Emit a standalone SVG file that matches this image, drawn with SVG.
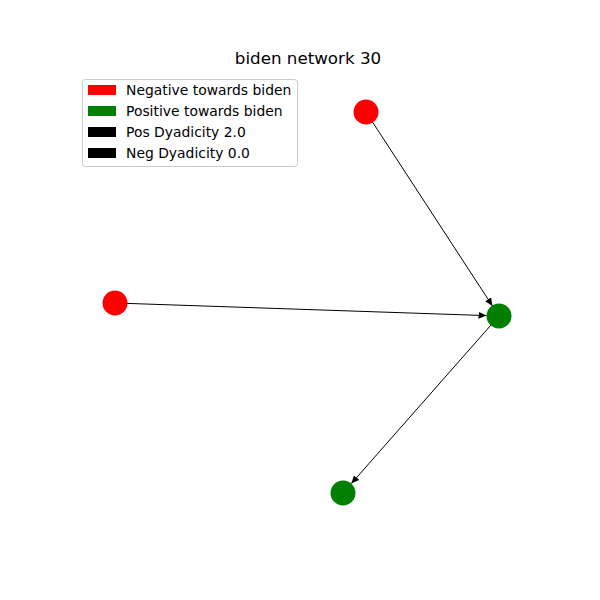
<svg xmlns="http://www.w3.org/2000/svg" width="600" height="600" viewBox="0 0 600 600">
<style>
text{font-family:"DejaVu Sans",sans-serif;fill:#000}
.lg{font-size:13.9px}
.e{stroke:#000;stroke-width:1;fill:none;marker-end:url(#ah)}
</style>
<defs>
<marker id="ah" markerUnits="userSpaceOnUse" markerWidth="8" markerHeight="7" refX="8" refY="3.5" orient="auto">
<path d="M0,0 L8,3.5 L0,7 Z" fill="#000"/>
</marker>
</defs>
<rect width="600" height="600" fill="#fff"/>
<text x="308" y="64" font-size="16.7" text-anchor="middle">biden network 30</text>
<g id="connectors">
<line class="e" x1="372.5" y1="122" x2="492.5" y2="306"/>
<line class="e" x1="127" y1="303.4" x2="486.5" y2="315.6"/>
<line class="e" x1="491" y1="325" x2="351.3" y2="483.6"/>
</g>
<g id="n1"><circle cx="366" cy="112" r="12.5" fill="#ff0000"/></g>
<g id="n2"><circle cx="115" cy="303" r="12.5" fill="#ff0000"/></g>
<g id="n3"><circle cx="499" cy="316" r="12.5" fill="#008000"/></g>
<g id="n4"><circle cx="343" cy="493" r="12.5" fill="#008000"/></g>
<g id="legend">
<rect x="82.5" y="79.5" width="215" height="87" rx="3" fill="#fff" fill-opacity="0.8" stroke="#ccc"/>
<rect x="88" y="85" width="28" height="10" fill="#ff0000"/>
<text class="lg" x="126" y="95">Negative towards biden</text>
<rect x="88" y="106" width="28" height="10" fill="#008000"/>
<text class="lg" x="126" y="116">Positive towards biden</text>
<rect x="88" y="127" width="28" height="10" fill="#000"/>
<text class="lg" x="126" y="137">Pos Dyadicity 2.0</text>
<rect x="88" y="148" width="28" height="10" fill="#000"/>
<text class="lg" x="126" y="158">Neg Dyadicity 0.0</text>
</g>
</svg>
